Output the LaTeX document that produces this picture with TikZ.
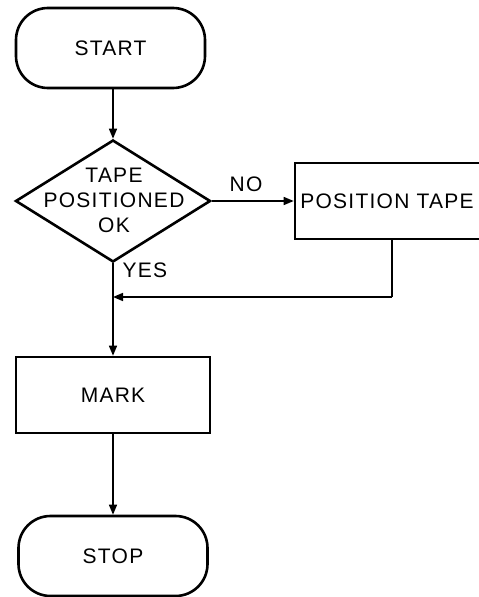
\documentclass[tikz,border=0pt]{standalone}
\usepackage{fontspec}
\setmainfont[LetterSpace=6]{Liberation Sans}
\usetikzlibrary{shapes.geometric,arrows.meta}
\begin{document}
\begin{tikzpicture}[x=1pt,y=-1pt,
  every node/.style={font=\fontsize{21}{25}\selectfont},
  shapeline/.style={draw=black,line width=2.6pt},
  term/.style={shapeline,rounded corners=32pt,minimum width=189pt,minimum height=80pt,inner sep=0pt},
  procbox/.style={shapeline,minimum height=76pt,inner sep=0pt},
  decision/.style={shapeline,diamond,minimum width=195pt,minimum height=122pt,inner sep=0pt},
  conn/.style={draw=black,line width=1.5pt,-{Triangle[length=10pt,width=8pt]}},
  plain/.style={draw=black,line width=1.5pt},
  lbl/.style={inner sep=0pt}]
\useasboundingbox (0,0) rectangle (479,597);
\node[term] (start) at (110.5,48) {START};
\node[decision] (dec) at (113,201) {};
\node[align=center,inner sep=0pt] (dectext) at (114,200) {TAPE\\POSITIONED\\OK};
\node[procbox,minimum width=210pt] (pos) at (400,201) {};
\node[lbl] (postext) at (387,201) {POSITION TAPE};
\node[procbox,minimum width=194pt] (mark) at (113,395) {MARK};
\node[term] (stop) at (113,556) {STOP};
\coordinate (merge) at (113,297);
\coordinate (corner) at (392,297);
\node[lbl] (no) at (246,184) {NO};
\node[lbl] (yes) at (145,270) {YES};
\draw[conn] (start.south -| dec.north) -- (dec.north);
\draw[conn] (dec.east) -- (dec.east -| pos.west);
\draw[plain] (dec.south) -- (mark.north |- merge);
\draw[conn] (merge) -- (mark.north);
\draw[plain] (pos.south -| corner) -- (corner);
\draw[conn] (corner) -- (merge);
\draw[conn] (mark.south) -- (stop.north);
\end{tikzpicture}
\end{document}
